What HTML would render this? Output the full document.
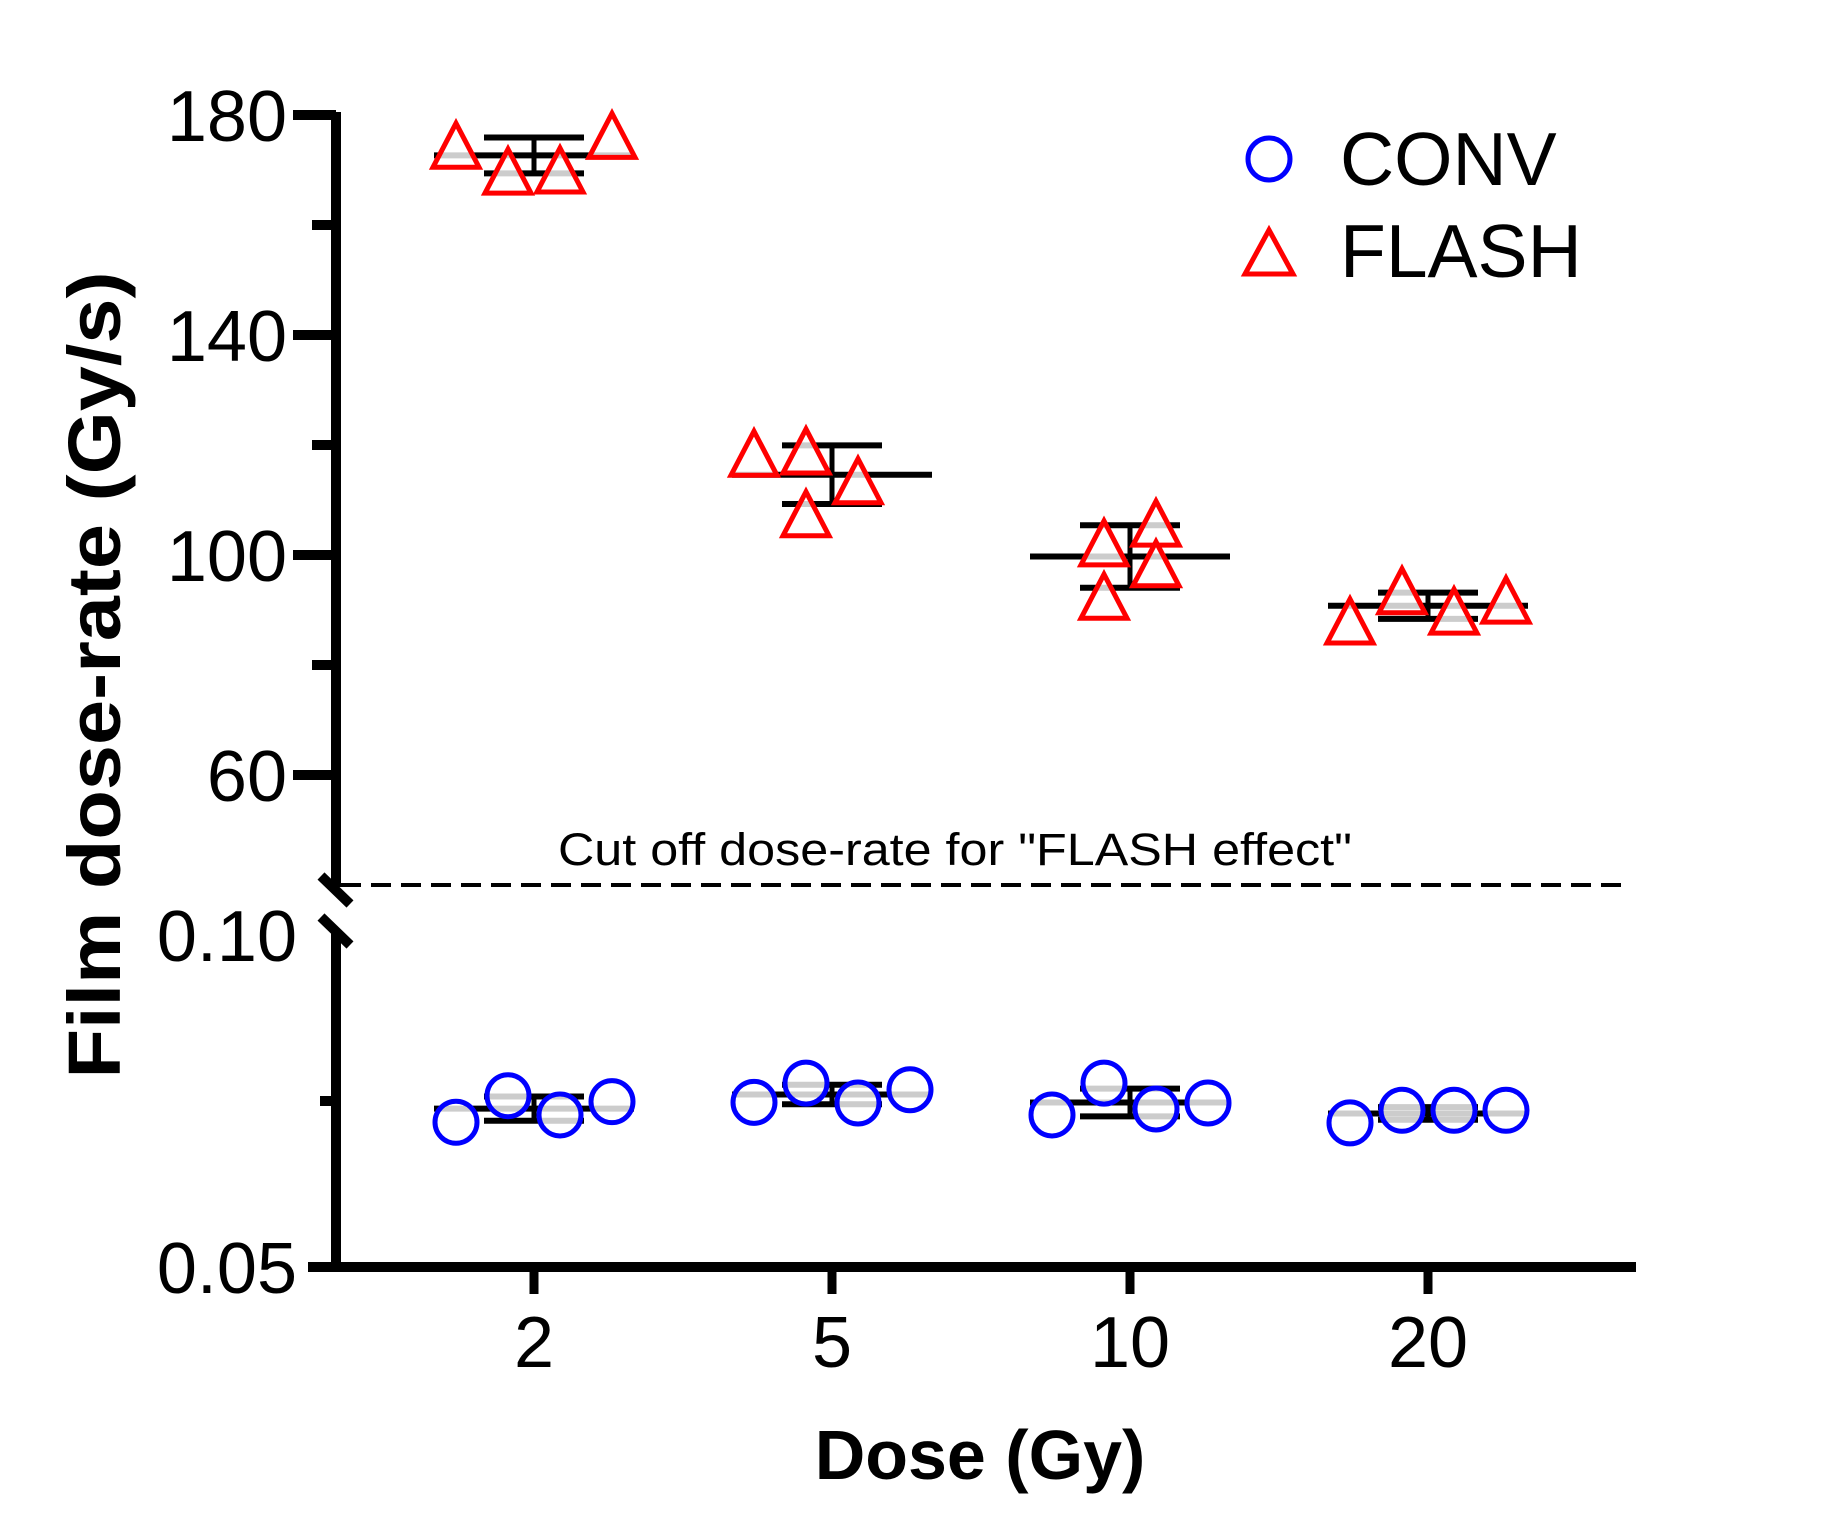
<!DOCTYPE html>
<html><head><meta charset="utf-8">
<style>
html,body{margin:0;padding:0;background:#fff;}
svg{display:block;font-family:"Liberation Sans",Arial,sans-serif;}
</style></head>
<body>
<svg id="chart" width="1846" height="1539" viewBox="0 0 1846 1539" xmlns="http://www.w3.org/2000/svg">
  <g id="axes"></g>
  <g id="marks"></g>
  <line x1="341" y1="885" x2="1628" y2="885" stroke="#000" stroke-width="4" stroke-dasharray="20,10"/>
  <text x="558" y="865" font-size="45" textLength="794" lengthAdjust="spacingAndGlyphs">Cut off dose-rate for "FLASH effect"</text>
  <text x="980" y="1479" font-size="70" font-weight="bold" text-anchor="middle">Dose (Gy)</text>
  <text transform="translate(120,675) rotate(-90)" font-size="74" font-weight="bold" text-anchor="middle" textLength="807" lengthAdjust="spacingAndGlyphs">Film dose-rate (Gy/s)</text>
  <g>
    <circle cx="1269" cy="159" r="21" fill="none" stroke="#0000ff" stroke-width="5"/>
    <text x="1340" y="185" font-size="75">CONV</text>
    <polygon points="1269,230 1293,274 1245,274" fill="none" stroke="#ff0000" stroke-width="5" stroke-linejoin="miter"/>
    <text x="1340" y="277" font-size="75">FLASH</text>
  </g>
</svg>
<script>
const categories = ["2", "5", "10", "20"];
const flashValues = [
  [174.5, 169.8, 170.0, 176.3],
  [118.5, 118.9, 107.5, 113.5],
  [102.2, 92.5, 105.8, 98.4],
  [88.0, 93.5, 89.8, 91.8]
];
const convValues = [
  [0.0718, 0.0758, 0.0729, 0.0749],
  [0.0748, 0.0777, 0.0747, 0.0767],
  [0.0729, 0.0777, 0.0738, 0.0747],
  [0.0717, 0.0736, 0.0736, 0.0736]
];
const upperTicks = [180, 160, 140, 120, 100, 80, 60];
const upperTickLabels = ["180", "", "140", "", "100", "", "60"];
const lowerTicks = [0.05, 0.075, 0.10];
const lowerTickLabels = ["0.05", "", "0.10"];

const NS = "http://www.w3.org/2000/svg";
const axes = document.getElementById("axes");
const marks = document.getElementById("marks");
function xScale(i){ return 534 + i * 298; }
function yUpper(v){ return 115 + (180 - v) * 5.5; }
function yLower(v){ return 1267 - (v - 0.05) * 6640; }
const flashOffsets = [[-78,-26,26,78],[-78,-26,-26,26],[-26,-26,26,26],[-78,-26,26,78]];
const convOffsets = [-78,-26,26,78];
function mk(tag, attrs, parent){
  const e = document.createElementNS(NS, tag);
  for (const k in attrs) e.setAttribute(k, attrs[k]);
  parent.appendChild(e);
  return e;
}
function mean(a){ return a.reduce((s,v)=>s+v,0)/a.length; }
function sd(a){ const m=mean(a); return Math.sqrt(a.reduce((s,v)=>s+(v-m)*(v-m),0)/(a.length-1)); }

let e = mk("line",{x1:336,y1:112,x2:336,y2:887,stroke:"#000","stroke-width":10},axes);


e = mk("line",{x1:336,y1:933,x2:336,y2:1272,stroke:"#000","stroke-width":10},axes);


e = mk("line",{x1:308,y1:1267,x2:1636,y2:1267,stroke:"#000","stroke-width":10},axes);


e = mk("line",{x1:321,y1:876,x2:350,y2:904,stroke:"#000","stroke-width":10},axes);


e = mk("line",{x1:321,y1:917,x2:350,y2:945,stroke:"#000","stroke-width":10},axes);



upperTicks.forEach((v,i)=>{
  const y = yUpper(v);
  const major = upperTickLabels[i] !== "";
  const t = mk("line",{x1: major?293:312, y1:y, x2:336, y2:y, stroke:"#000","stroke-width":10},axes);
  
  
  if (major){
    const l = mk("text",{x:287,y:y+26,"font-size":72,"text-anchor":"end"},axes);
    l.textContent = upperTickLabels[i];
    
    
  }
});
lowerTicks.forEach((v,i)=>{
  const y = yLower(v);
  if (i === 1){
    const t = mk("line",{x1:320,y1:y,x2:336,y2:y,stroke:"#000","stroke-width":10},axes);
    
    
  }
  if (lowerTickLabels[i] !== ""){
    const l = mk("text",{x:297,y:y+26,"font-size":72,"text-anchor":"end"},axes);
    l.textContent = lowerTickLabels[i];
    
    
  }
});
categories.forEach((c,i)=>{
  const x = xScale(i);
  const t = mk("line",{x1:x,y1:1267,x2:x,y2:1294,stroke:"#000","stroke-width":9},axes);
  
  
  const l = mk("text",{x:x,y:1367,"font-size":72,"text-anchor":"middle"},axes);
  l.textContent = c;
  
  
});

function errorBar(cx, m, s, yf, name){
  const g = mk("g",{},marks);
  
  
  const ym = yf(m), yt = yf(m + s), yb = yf(m - s);
  mk("line",{x1:cx-100,y1:ym,x2:cx+100,y2:ym,stroke:"#000","stroke-width":6},g);
  mk("line",{x1:cx,y1:yt,x2:cx,y2:yb,stroke:"#000","stroke-width":5},g);
  mk("line",{x1:cx-50,y1:yt,x2:cx+50,y2:yt,stroke:"#000","stroke-width":6},g);
  mk("line",{x1:cx-50,y1:yb,x2:cx+50,y2:yb,stroke:"#000","stroke-width":6},g);
}

categories.forEach((c,i)=>{
  const cx = xScale(i);
  errorBar(cx, mean(flashValues[i]), sd(flashValues[i]), yUpper, 'flash-error-bar');
  errorBar(cx, mean(convValues[i]), sd(convValues[i]), yLower, 'conv-error-bar');
});
categories.forEach((c,i)=>{
  const cx = xScale(i);
  flashValues[i].forEach((v,j)=>{
    const x = cx + flashOffsets[i][j], y = yUpper(v);
    const p = mk("polygon",{points:`${x},${y-22} ${x+23},${y+22} ${x-23},${y+22}`,fill:"rgba(255,255,255,0.8)",stroke:"#ff0000","stroke-width":5},marks);
    
    
  });
  convValues[i].forEach((v,j)=>{
    const x = cx + convOffsets[j], y = yLower(v);
    const p = mk("circle",{cx:x,cy:y,r:21,fill:"rgba(255,255,255,0.8)",stroke:"#0000ff","stroke-width":5},marks);
    
    
  });
});
</script>
</body></html>
